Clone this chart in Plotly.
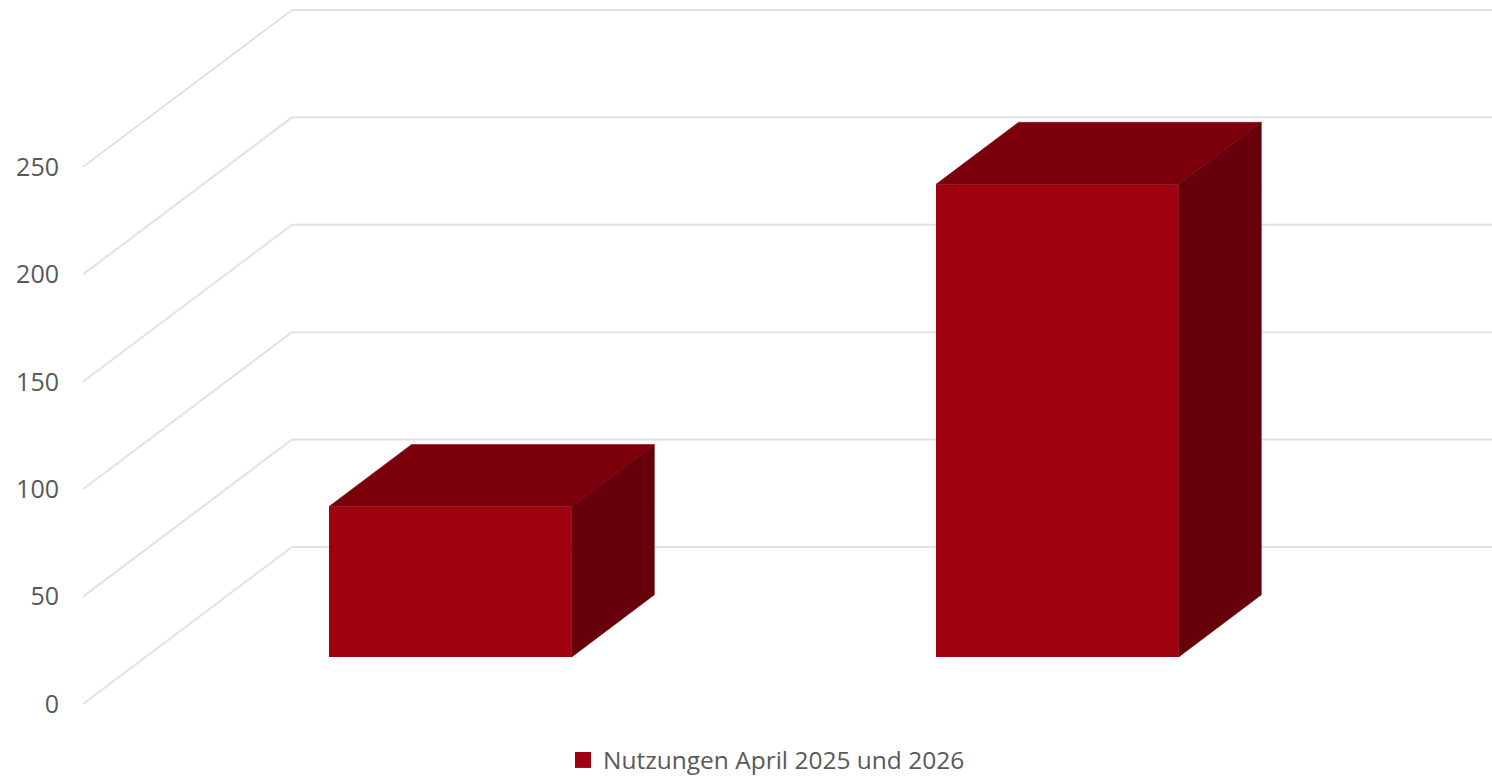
import plotly.graph_objects as go

# Data
categories = [0, 1]
values = [70, 220]
tick_values = [0, 50, 100, 150, 200, 250]
series_name = "Nutzungen April 2025 und 2026"

# Oblique projection of the 3D look, in axis units
X_LEFT, X_RIGHT = -0.502, 1.8193
Y_MAX = 325.4
DEPTH_X, DEPTH_Y = 0.3443, 73.1
BAR_WIDTH = 0.4
BAR_FRONT, BAR_BACK = 0.30, 0.695

FRONT, TOP, SIDE = "#9E0010", "#7C000C", "#66000A"
GRID = "#E2E2E2"
TEXT = "#595959"
FONT = "Open Sans"


def project(x, v, depth):
    return x + depth * DEPTH_X, v + depth * DEPTH_Y


fig = go.Figure()

# Front faces: real bars raised by the floor offset
front_x = [project(c, 0, BAR_FRONT)[0] for c in categories]
fig.add_trace(go.Bar(
    x=front_x, y=values, base=[BAR_FRONT * DEPTH_Y] * len(values),
    width=BAR_WIDTH, marker=dict(color=FRONT, line=dict(width=0)),
    showlegend=False, hoverinfo="y",
))

# Top and side faces
for c, v in zip(categories, values):
    left, right = c - BAR_WIDTH / 2, c + BAR_WIDTH / 2
    top = [project(left, v, BAR_FRONT), project(right, v, BAR_FRONT),
           project(right, v, BAR_BACK), project(left, v, BAR_BACK)]
    side = [project(right, 0, BAR_FRONT), project(right, v, BAR_FRONT),
            project(right, v, BAR_BACK), project(right, 0, BAR_BACK)]
    for pts, col in ((top, TOP), (side, SIDE)):
        fig.add_trace(go.Scatter(
            x=[p[0] for p in pts] + [pts[0][0]],
            y=[p[1] for p in pts] + [pts[0][1]],
            mode="lines", fill="toself", fillcolor=col,
            line=dict(width=0.5, color=col), showlegend=False, hoverinfo="skip",
        ))

# Legend entry
fig.add_trace(go.Scatter(
    x=[None], y=[None], mode="markers", name=series_name,
    marker=dict(symbol="square", size=16, color=FRONT),
))

# Gridlines: side wall diagonal, then back wall
shapes = []
for t in tick_values:
    x0, y0 = project(X_LEFT, t, 0)
    x1, y1 = project(X_LEFT, t, 1)
    line = dict(color=GRID, width=2)
    shapes.append(dict(type="line", xref="x", yref="y", x0=x0, y0=y0, x1=x1, y1=y1,
                       line=line, layer="below"))
    shapes.append(dict(type="line", xref="x", yref="y", x0=x1, y0=y1, x1=X_RIGHT, y1=y1,
                       line=line, layer="below"))

fig.update_layout(
    width=1492, height=777, autosize=False,
    margin=dict(l=83, r=0, t=5, b=73),
    paper_bgcolor="white", plot_bgcolor="white",
    font=dict(family=FONT, color=TEXT, size=25),
    shapes=shapes,
    showlegend=True,
    legend=dict(orientation="h", xref="container", yref="container",
                xanchor="center", yanchor="middle",
                x=766.5 / 1492, y=1 - 760 / 777,
                font=dict(family=FONT, color=TEXT, size=24.5),
                bgcolor="rgba(0,0,0,0)"),
    xaxis=dict(range=[X_LEFT, X_RIGHT], visible=False, fixedrange=True),
    yaxis=dict(range=[0, Y_MAX], tickmode="array", tickvals=tick_values,
               ticktext=[str(t) for t in tick_values],
               showgrid=False, zeroline=False, showline=False,
               ticks="", ticklabelstandoff=23, automargin=False,
               tickfont=dict(family=FONT, color=TEXT, size=25), fixedrange=True),
)

fig.write_html(
    "out.html",
    config={"displayModeBar": False},
    post_script="document.body.style.margin='0';document.documentElement.style.overflow='hidden';",
)
